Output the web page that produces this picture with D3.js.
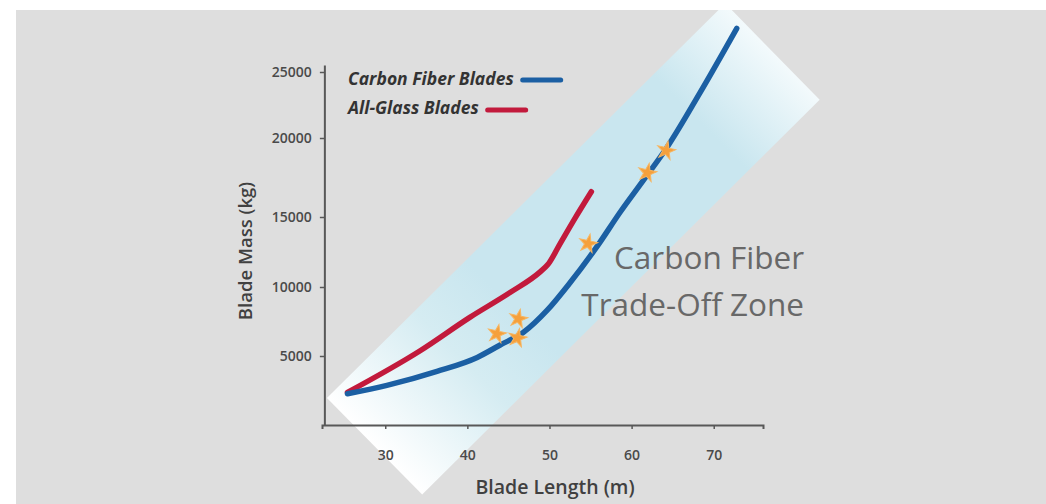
<!DOCTYPE html>
<html>
<head>
<meta charset="utf-8">
<script src="https://cdn.jsdelivr.net/npm/d3@7"></script>
<style>
  html, body { margin: 0; padding: 0; background: #ffffff; }
  svg { display: block; }
</style>
</head>
<body>
<svg id="chart" width="1046" height="504"></svg>
<script>
// ---------- data ----------
const xTicks = [30, 40, 50, 60, 70];
const yTicks = [5000, 10000, 15000, 20000, 25000];

const carbonLength = [25.4, 30.2, 36.3, 41.2, 44.0, 46.8, 49.7, 52.5, 55.8, 58.6, 61.4, 64.3, 68.3, 72.8];
const carbonMass   = [2300, 2900, 3900, 4900, 5800, 6700, 8300, 10300, 12900, 15300, 17300, 19400, 23400, 28300];

const glassLength = [25.4, 34.3, 40.3, 45.2, 48.9, 49.8, 51.3, 53.1, 55.1];
const glassMass   = [2400, 5400, 7800, 9600, 11100, 11600, 13100, 14900, 16600];

const starLength = [43.6, 46.2, 46.1, 54.7, 61.9, 64.2];
const starMass   = [6600, 7700, 6300, 13100, 17800, 19200];

// trade-off zone corners (length m, mass kg)
const zoneLength = [22.9, 34.5, 82.9, 71.4];
const zoneMass   = [2000, -4900, 22900, 30200];

const seriesNames = ["Carbon Fiber Blades", "All-Glass Blades"];
const seriesColors = ["#1b5fa3", "#c21a3c"];
const zoneLabel = ["Carbon Fiber", "Trade-Off Zone"];

// ---------- scales ----------
const svg = d3.select("#chart");
const W = 1046, H = 504;

const x = d3.scaleLinear().domain([22.3, 76]).range([322, 763]);
// the original chart's y ticks are not evenly spaced
const y = d3.scaleLinear()
  .domain([0, 5000, 10000, 15000, 20000, 25000])
  .range([426, 356, 287, 217, 138, 72]);
const yTop = 25500;
const yAxisAt = 22.65;

// ---------- background ----------
svg.append("rect").attr("x", 0).attr("y", 0).attr("width", W).attr("height", H).attr("fill", "#ffffff");
svg.append("rect").attr("x", 16).attr("y", 10).attr("width", W - 16).attr("height", H - 10).attr("fill", "#dedede");

const defs = svg.append("defs");
defs.append("clipPath").attr("id", "panel")
  .append("rect").attr("x", 16).attr("y", 10).attr("width", W - 16).attr("height", H - 10);

// ---------- zone ----------
const zonePts = zoneLength.map((d, i) => [x(d), y(zoneMass[i])]);
const endA = [(zonePts[0][0] + zonePts[1][0]) / 2, (zonePts[0][1] + zonePts[1][1]) / 2];
const endB = [(zonePts[2][0] + zonePts[3][0]) / 2, (zonePts[2][1] + zonePts[3][1]) / 2];
const grad = defs.append("linearGradient").attr("id", "zoneGrad")
  .attr("gradientUnits", "userSpaceOnUse")
  .attr("x1", endA[0]).attr("y1", endA[1]).attr("x2", endB[0]).attr("y2", endB[1]);
grad.append("stop").attr("offset", "0").attr("stop-color", "#ffffff");
grad.append("stop").attr("offset", "0.22").attr("stop-color", "#d5ecf2");
grad.append("stop").attr("offset", "0.35").attr("stop-color", "#c9e6ef");
grad.append("stop").attr("offset", "0.82").attr("stop-color", "#c9e6ef");
grad.append("stop").attr("offset", "1").attr("stop-color", "#f3fafc");

svg.append("g").attr("clip-path", "url(#panel)")
  .append("path")
  .attr("d", "M" + zonePts.map(p => p.join(",")).join("L") + "Z")
  .attr("fill", "url(#zoneGrad)");

// ---------- axes ----------
const axisColor = "#585858";
const font = "'Open Sans', sans-serif";
const gx = svg.append("g").attr("transform", `translate(0,${y(0) - 1})`)
  .call(d3.axisBottom(x).tickValues(xTicks).tickSize(4).tickPadding(21).tickFormat(d3.format("d")));
const gy = svg.append("g").attr("transform", `translate(${x(yAxisAt)},0)`)
  .call(d3.axisLeft(y).tickValues(yTicks).tickSize(5).tickPadding(8).tickFormat(d3.format("d")));
gy.select(".domain").attr("d", `M0,${y(yTop)}V${y(0) - 1}`);
[gx, gy].forEach(g => {
  g.select(".domain").attr("stroke", axisColor).attr("stroke-width", 2);
  g.selectAll(".tick line").attr("stroke", axisColor).attr("stroke-width", 1.5);
  g.selectAll(".tick text").attr("fill", "#4a4a4a")
    .style("font-family", font).style("font-size", "14px").style("font-weight", "600");
});

svg.append("text")
  .attr("transform", `translate(252,251) rotate(-90)`)
  .attr("text-anchor", "middle")
  .style("font-family", font).style("font-size", "18.5px").style("font-weight", "600")
  .attr("fill", "#404040").text("Blade Mass (kg)");
svg.append("text")
  .attr("x", 555).attr("y", 494)
  .attr("text-anchor", "middle")
  .style("font-family", font).style("font-size", "19.5px").style("font-weight", "600")
  .attr("fill", "#404040").text("Blade Length (m)");

// ---------- zone label ----------
const zl = svg.append("text").attr("text-anchor", "end")
  .style("font-family", font).style("font-size", "31.5px")
  .attr("fill", "#686868");
zl.selectAll("tspan").data(zoneLabel).join("tspan")
  .attr("x", 804).attr("y", (d, i) => 269 + i * 47).text(d => d);

// ---------- lines ----------
const line = d3.line().x(d => x(d[0])).y(d => y(d[1])).curve(d3.curveMonotoneX);
const series = [
  carbonLength.map((d, i) => [d, carbonMass[i]]),
  glassLength.map((d, i) => [d, glassMass[i]])
];
svg.append("g").selectAll("path").data([series[1], series[0]]).join("path")
  .attr("d", line)
  .attr("fill", "none")
  .attr("stroke", (d, i) => i === 0 ? seriesColors[1] : seriesColors[0])
  .attr("stroke-width", 5.5)
  .attr("stroke-linecap", "round")
  .attr("stroke-linejoin", "round");

// ---------- stars ----------
const star = d3.symbol().type(d3.symbolStar).size(105);
svg.append("g").selectAll("path").data(starLength.map((d, i) => [d, starMass[i]])).join("path")
  .attr("transform", d => `translate(${x(d[0])},${y(d[1])}) rotate(12)`)
  .attr("d", star)
  .attr("fill", "#f5a03c")
  .attr("stroke", "#f7b560").attr("stroke-width", 1);

// ---------- legend ----------
const lg = svg.append("g");
seriesNames.forEach((name, i) => {
  const t = lg.append("text")
    .attr("x", 348).attr("y", 85 + i * 29)
    .style("font-family", font).style("font-size", "17.5px")
    .style("font-weight", "bold").style("font-style", "italic")
    .attr("fill", "#333333").text(name);
  const w = t.node().getComputedTextLength();
  lg.append("line")
    .attr("x1", 348 + w + 9).attr("x2", 348 + w + 47)
    .attr("y1", 80 + i * 30).attr("y2", 80 + i * 30)
    .attr("stroke", seriesColors[i]).attr("stroke-width", 5)
    .attr("stroke-linecap", "round");
});
</script>
</body>
</html>
